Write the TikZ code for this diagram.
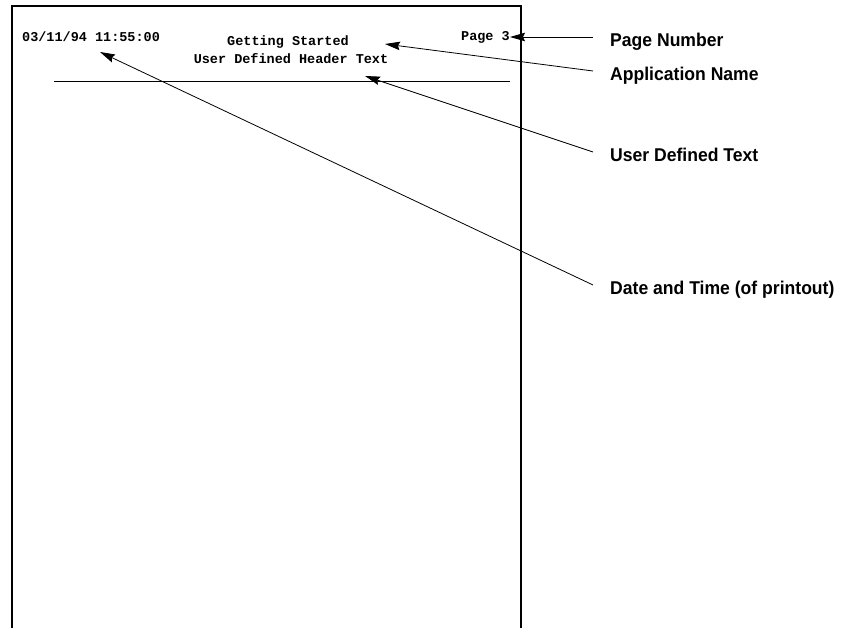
\documentclass[tikz,border=0pt]{standalone}
\usepackage{fontspec}
\setmainfont{Liberation Sans}
\setmonofont{Liberation Mono}
\usetikzlibrary{arrows.meta, positioning, calc}

\begin{document}
\begin{tikzpicture}[
    x=1pt, y=-1pt,
    sheet/.style={line width=1.2pt},
    hdr/.style={font=\fontsize{13.5}{16}\selectfont\ttfamily\bfseries, inner sep=0pt},
    callout/.style={font=\fontsize{18.5}{20}\selectfont\bfseries, inner sep=0pt, anchor=west, xscale=0.95},
    arrow/.style={-{Stealth[length=15pt, width=8.5pt, inset=2pt]}, line width=0.8pt}
]
    \useasboundingbox (0,0) rectangle (844,628);

    % the printed page
    \draw[sheet] (12,628) -- (12,6) -- (521,6) -- (521,628);
    \draw[line width=1pt] (54,82) -- (510,82);

    % header lines
    \node[hdr, anchor=west] (stamp) at (22,37) {03/11/94 11:55:00};
    \node[hdr] (title) at (288,42) {Getting Started};
    \node[hdr] (usrhdr) at (291,59) {User Defined Header Text};
    \node[hdr, anchor=east] (pageno) at (510,37) {Page 3};

    % callouts
    \node[callout] (lblpage) at (610,42) {Page Number};
    \node[callout] (lblapp) at (610,76) {Application Name};
    \node[callout] (lbluser) at (610,155) {User Defined Text};
    \node[callout] (lbldate) at (610,290) {Date and Time (of printout)};

    \coordinate (apptip) at (385,44);
    \coordinate (usertip) at (365,76);
    \coordinate (datetip) at (100,52);

    \draw[arrow] (593,37) -- (pageno.east);
    \draw[arrow] (593,71) -- (apptip);
    \draw[arrow] (593,152) -- (usertip);
    \draw[arrow] (593,285) -- (datetip);
\end{tikzpicture}
\end{document}
